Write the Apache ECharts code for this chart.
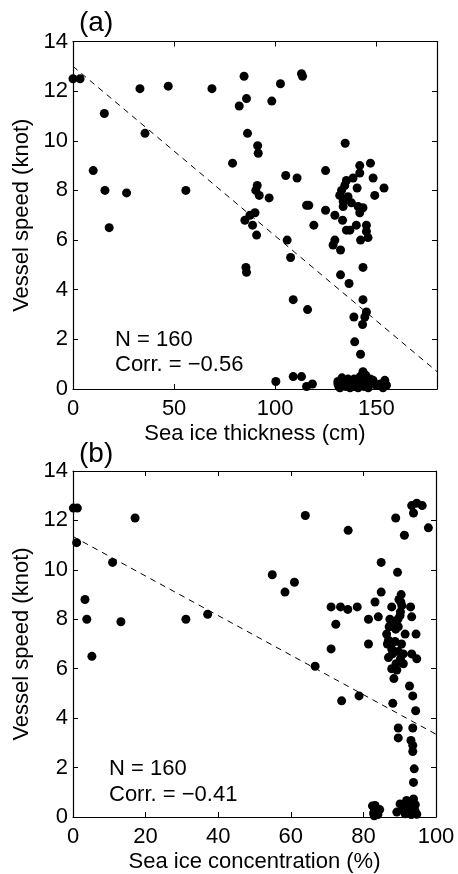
<!DOCTYPE html>
<html>
<head>
<meta charset="utf-8">
<script src="https://cdn.jsdelivr.net/npm/echarts@6/dist/echarts.min.js"></script>
<style>html,body{margin:0;padding:0;background:#fff;}#c{width:458px;height:874px;}</style>
</head>
<body>
<div id="c"></div>
<script>
// Panel (a): sea ice thickness (cm) vs vessel speed (knot)
const thicknessSpeed = [
[0,12.5],[3.5,12.5],[15.5,11.1],[33.1,12.1],[47.1,12.2],[68.7,12.1],[84.6,12.6],[85.8,11.7],[82.2,11.4],[98.3,11.6],[102.6,12.3],[113,12.7],[113.5,12.6],
[35.6,10.3],[86.3,10.3],[91.3,9.8],[91.6,9.5],[78.9,9.1],[10,8.8],[15.8,8.0],[26.5,7.9],[55.8,8.0],
[91.1,8.2],[90.4,8.0],[92.1,7.8],[97,7.7],[85,6.8],[87.5,7.0],[90,7.1],[88.8,6.6],[90.8,6.2],[17.9,6.5],[85.5,4.9],[85.8,4.7],
[134.6,9.9],[105.2,8.6],[110.8,8.5],[124.9,8.8],[141.8,9.0],[147.1,9.1],[148.4,8.5],[153.8,8.1],[149.2,7.8],
[115.5,7.4],[116.6,7.4],[124.9,7.2],[129.5,7.0],[133.3,6.8],[119.1,6.6],
[141.8,8.7],[138.5,8.5],[135.2,8.4],[134.4,8.2],[140.5,8.1],[132.8,8.0],[131.9,7.8],[136,7.75],[133.6,7.55],[137.7,7.5],[133.6,7.35],[141,7.35],[143.4,7.3],[141.8,7.1],
[135.2,6.4],[136.9,6.4],[140.1,6.6],[145.1,6.6],[145.1,6.35],[145.9,6.1],[142.2,6.0],[129.5,6.0],[128.6,5.8],[132.3,5.6],
[143.4,4.9],[132.3,4.6],[136.5,4.25],[143.4,3.6],[145.1,3.1],[144.3,2.9],[138.9,2.9],[143.2,2.6],[139.3,1.9],[142.2,1.4],
[105.9,6.0],[107.6,5.3],[108.9,3.6],[116,3.2],
[100.3,0.3],[108.9,0.5],[113,0.5],[115.5,0.1],[118.4,0.2],
[131,0.3],[131.5,0.1],[132,0.05],[133,0.2],[134,0.35],[135,0.1],[136,0.25],[137,0.15],[138,0.3],[139,0.1],[140,0.2],[141,0.05],[141.5,0.35],[142,0.5],[143,0.2],[143.4,0.7],[144.8,0.55],[144,0.1],[145.5,0.3],[146,0.05],[147,0.4],[148.4,0.35],[154.2,0.35],[155,0.15],[153.3,0.05],[152,0.2],[133,0.45],[136,0.4],[139,0.4],[131,0.2],[137,0.05],[142.5,0.25],[144,0.45],[146.5,0.2],[150,0.15]
];
const thicknessFit = [[0,13.0],[180,0.7]];

// Panel (b): sea ice concentration (%) vs vessel speed (knot)
const concentrationSpeed = [
[0.1,12.5],[1.2,12.5],[1.0,11.1],[17.1,12.1],[10.9,10.3],[3.3,8.8],[3.8,8.0],[13.2,7.9],[31.1,8.0],[37.1,8.2],[5.2,6.5],
[64.0,12.2],[75.8,11.6],[88.9,12.1],[91.3,11.4],[93.8,12.3],[93.3,12.6],[94.7,12.7],[96.2,12.6],[97.9,11.7],
[54.9,9.8],[58.4,9.1],[61,9.5],[84.9,10.3],[89.4,9.9],[84.9,9.1],[83.2,8.7],
[71.1,8.5],[73.7,8.5],[75.7,8.4],[78.3,8.5],[72.4,7.8],[81.4,8.0],[84.1,8.1],[71.1,6.8],[81.4,7.0],[90.4,9.0],
[87.8,8.5],[90.6,8.55],[93.0,8.5],[87.3,8.0],[90.1,8.15],[93.3,8.1],[89.6,7.7],[86.4,7.4],[91.5,7.4],[94.5,7.4],
[86.9,7.15],[88.7,7.1],[87.8,6.8],[89.6,6.7],[91,6.6],[93.3,6.6],[86.9,6.45],[94.7,6.4],[91,6.2],[87.8,6.0],[89.2,5.95],[88.4,5.6],[92.7,5.3],
[89.8,8.8],[90.2,8.3],[88.5,7.9],[88.9,7.6],[87.1,7.7],[90.5,7.0],[88.0,6.6],[90.2,6.4],[89.0,6.2],[86.6,7.0],[90.3,8.7],[89.5,8.0],
[74,4.7],[78.8,4.9],[88.1,4.6],[93.6,4.9],[94.4,4.3],[66.7,6.1],
[89.6,3.6],[89.6,3.2],[93.6,3.6],[93.1,3.1],[93.6,2.9],[93.6,2.65],[94,1.95],[93.8,1.4],
[82.5,0.45],[83,0.35],[83.5,0.2],[84,0.1],[84.5,0.3],[83,0.05],[82.8,0.15],[83.2,0.47],[83.2,0.2],
[89.2,0.2],[91.9,0.67],[93.8,0.73],[90.1,0.53],[92.4,0.27],[94.2,0.27],[94.7,0.11],[91.5,0.13],[92.8,0.5],[93.2,0.1],[94.3,0.5],[91,0.35]
];
const concentrationFit = [[0,11.35],[100,3.35]];

const yTicks = [0,2,4,6,8,10,12,14];
const thicknessTicks = [0,50,100,150];
const concentrationTicks = [0,20,40,60,80,100];

const FONT = 'Liberation Sans, Arial, Helvetica, sans-serif';
const FS = 22;
const chart = echarts.init(document.getElementById('c'));

function xMain(grid, max, interval, name, gap, labels) {
  return {
    type: 'value', gridIndex: grid, min: 0, max: max, interval: interval, position: 'bottom',
    name: name, nameLocation: 'middle', nameGap: gap,
    nameTextStyle: {fontFamily: FONT, fontSize: FS, color: '#000'},
    axisLine: {show: true, onZero: false, lineStyle: {color: '#000', width: 1.2}},
    axisTick: {show: true, inside: true, length: 5, lineStyle: {color: '#000'}},
    axisLabel: {show: true, margin: 9, fontFamily: FONT, fontSize: FS, color: '#000',
      formatter: v => labels.indexOf(v) >= 0 ? String(v) : ''},
    splitLine: {show: false}
  };
}
function xTop(grid, max, interval) {
  return {
    type: 'value', gridIndex: grid, min: 0, max: max, interval: interval, position: 'top',
    axisLine: {show: true, onZero: false, lineStyle: {color: '#000', width: 1.2}},
    axisTick: {show: true, inside: true, length: 5, lineStyle: {color: '#000'}},
    axisLabel: {show: false}, splitLine: {show: false}
  };
}
function yMain(grid) {
  return {
    type: 'value', gridIndex: grid, min: 0, max: 14, interval: 2, position: 'left',
    name: 'Vessel speed (knot)', nameLocation: 'middle', nameGap: 31,
    nameTextStyle: {fontFamily: FONT, fontSize: FS, color: '#000'},
    axisLine: {show: true, onZero: false, lineStyle: {color: '#000', width: 1.2}},
    axisTick: {show: true, inside: true, length: 5, lineStyle: {color: '#000'}},
    axisLabel: {show: true, margin: 5, fontFamily: FONT, fontSize: FS, color: '#000',
      formatter: v => yTicks.indexOf(v) >= 0 ? String(v) : ''},
    splitLine: {show: false}
  };
}
function yRight(grid) {
  return {
    type: 'value', gridIndex: grid, min: 0, max: 14, interval: 2, position: 'right',
    axisLine: {show: true, onZero: false, lineStyle: {color: '#000', width: 1.2}},
    axisTick: {show: true, inside: true, length: 5, lineStyle: {color: '#000'}},
    axisLabel: {show: false}, splitLine: {show: false}
  };
}
const dot = {color: '#000', opacity: 1};
chart.setOption({
  animation: false,
  backgroundColor: '#fff',
  grid: [
    {left: 73, top: 41.5, width: 364, height: 347.5},
    {left: 73, top: 471, width: 363, height: 349}
  ],
  xAxis: [
    xMain(0, 180, 50, 'Sea ice thickness (cm)', 34, thicknessTicks),
    xTop(0, 180, 50),
    xMain(1, 100, 20, 'Sea ice concentration (%)', 34, concentrationTicks),
    xTop(1, 100, 20)
  ],
  yAxis: [yMain(0), yRight(0), yMain(1), yRight(1)],
  series: [
    {type: 'scatter', xAxisIndex: 0, yAxisIndex: 0, data: thicknessSpeed, symbolSize: 9, itemStyle: dot, z: 3},
    {type: 'line', xAxisIndex: 0, yAxisIndex: 0, data: thicknessFit, symbol: 'none',
      lineStyle: {color: '#000', width: 1, type: [6, 5]}, z: 4},
    {type: 'scatter', xAxisIndex: 2, yAxisIndex: 2, data: concentrationSpeed, symbolSize: 9, itemStyle: dot, z: 3},
    {type: 'line', xAxisIndex: 2, yAxisIndex: 2, data: concentrationFit, symbol: 'none',
      lineStyle: {color: '#000', width: 1, type: [6, 5]}, z: 4}
  ],
  graphic: [
    {type: 'text', left: 79, top: 9, style: {text: '(a)', font: '28px ' + FONT, fill: '#000'}},
    {type: 'text', left: 79, top: 440, style: {text: '(b)', font: '28px ' + FONT, fill: '#000'}},
    {type: 'text', left: 115, top: 329, style: {text: 'N = 160', font: FS + 'px ' + FONT, fill: '#000'}},
    {type: 'text', left: 115, top: 354, style: {text: 'Corr. = \u22120.56', font: FS + 'px ' + FONT, fill: '#000'}},
    {type: 'text', left: 109, top: 758, style: {text: 'N = 160', font: FS + 'px ' + FONT, fill: '#000'}},
    {type: 'text', left: 109, top: 784, style: {text: 'Corr. = \u22120.41', font: FS + 'px ' + FONT, fill: '#000'}}
  ]
});
</script>
</body>
</html>
